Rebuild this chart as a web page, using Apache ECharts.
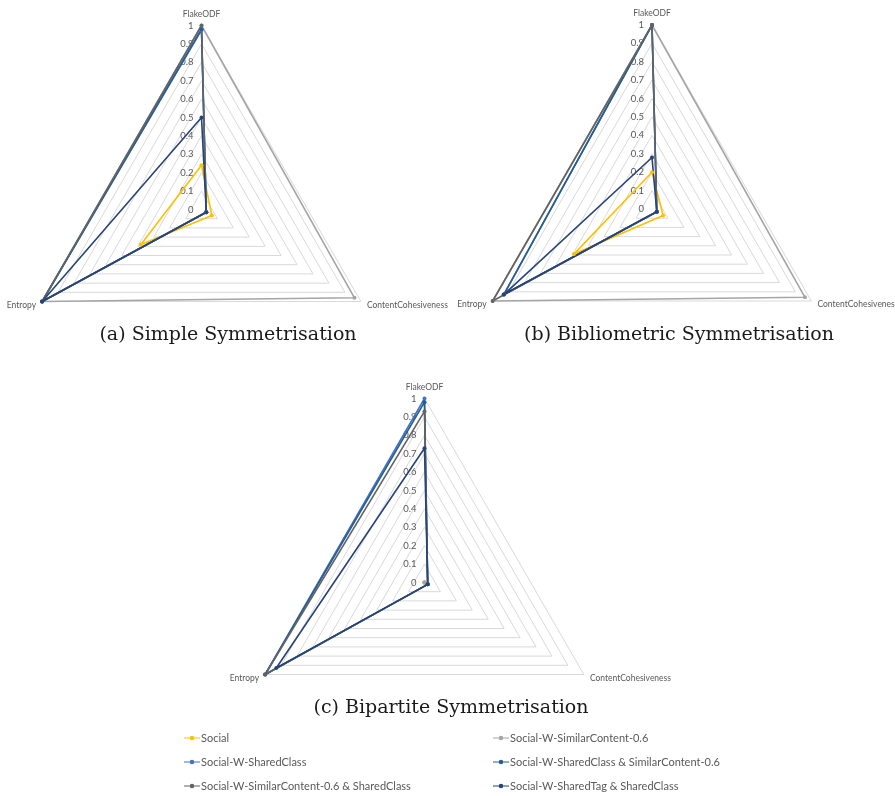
<!DOCTYPE html>
<html>
<head>
<meta charset="utf-8">
<title>Symmetrisation radar charts</title>
<script src="https://cdn.jsdelivr.net/npm/echarts@6/dist/echarts.min.js"></script>
<style>
  html, body { margin: 0; padding: 0; background: #ffffff; }
  #chart { width: 895px; height: 796px; }
</style>
</head>
<body>
<div id="chart"></div>
<script>
// Radar axes, in drawing order (top, bottom-left, bottom-right)
const categories = ['FlakeODF', 'Entropy', 'ContentCohesiveness'];
const tickValues = [0, 0.1, 0.2, 0.3, 0.4, 0.5, 0.6, 0.7, 0.8, 0.9, 1];

const methods = [
  'Social',
  'Social-W-SimilarContent-0.6',
  'Social-W-SharedClass',
  'Social-W-SharedClass & SimilarContent-0.6',
  'Social-W-SimilarContent-0.6 & SharedClass',
  'Social-W-SharedTag & SharedClass'
];
const methodColors = ['#FFC000', '#A5A5A5', '#4472C4', '#255E91', '#636363', '#264478'];

// (a) Simple symmetrisation: [FlakeODF, Entropy, ContentCohesiveness]
const simpleSocial          = [0.24, 0.38, 0.065];
const simpleSimContent      = [1.00, 1.00, 0.96];
const simpleSharedClass     = [0.975, 1.00, 0.03];
const simpleClassContent    = [0.98, 1.00, 0.03];
const simpleContentClass    = [1.00, 1.00, 0.03];
const simpleTagClass        = [0.50, 1.00, 0.03];

// (b) Bibliometric symmetrisation
const biblioSocial          = [0.20, 0.49, 0.07];
const biblioSimContent      = [1.00, 1.00, 0.96];
const biblioSharedClass     = [1.00, 0.93, 0.03];
const biblioClassContent    = [1.00, 0.93, 0.03];
const biblioContentClass    = [1.00, 1.00, 0.03];
const biblioTagClass        = [0.28, 0.93, 0.03];

// (c) Bipartite symmetrisation
const bipartSocial          = [0.00, 0.00, 0.00];
const bipartSimContent      = [0.00, 0.00, 0.00];
const bipartSharedClass     = [1.00, 1.00, 0.02];
const bipartClassContent    = [0.98, 1.00, 0.02];
const bipartContentClass    = [0.93, 1.00, 0.02];
const bipartTagClass        = [0.73, 0.93, 0.02];

const panels = [
  { title: '(a) Simple Symmetrisation', center: [201.5, 209.5], titlePos: [228, 335],
    values: [simpleSocial, simpleSimContent, simpleSharedClass, simpleClassContent, simpleContentClass, simpleTagClass] },
  { title: '(b) Bibliometric Symmetrisation', center: [652, 209], titlePos: [679, 335],
    values: [biblioSocial, biblioSimContent, biblioSharedClass, biblioClassContent, biblioContentClass, biblioTagClass] },
  { title: '(c) Bipartite Symmetrisation', center: [424.5, 582.5], titlePos: [451, 708],
    values: [bipartSocial, bipartSimContent, bipartSharedClass, bipartClassContent, bipartContentClass, bipartTagClass] }
];

const R = 184;
const labelFont = 'Lato, "Liberation Sans", sans-serif';
const textGrey = '#595959';

const radars = [], grids = [], xAxes = [], yAxes = [], series = [], graphics = [];

panels.forEach((p, pi) => {
  radars.push({
    center: p.center,
    radius: R,
    startAngle: 90,
    splitNumber: 10,
    shape: 'polygon',
    indicator: categories.map(name => ({ name: name, min: 0, max: 1 })),
    nameGap: 7,
    axisName: { color: textGrey, fontSize: 8.5, fontFamily: labelFont },
    axisLine: { show: false },
    axisTick: { show: false },
    axisLabel: { show: false },
    splitLine: { lineStyle: { color: '#D9D9D9', width: 1 } },
    splitArea: { show: false }
  });

  // value scale along the top axis, used only for its tick labels
  grids.push({ left: p.center[0], top: p.center[1] - R, width: 1, height: R });
  xAxes.push({ type: 'value', gridIndex: pi, show: false, min: 0, max: 1 });
  yAxes.push({
    type: 'value', gridIndex: pi,
    min: tickValues[0], max: tickValues[tickValues.length - 1], interval: 0.1,
    axisLine: { show: false }, axisTick: { show: false }, splitLine: { show: false },
    axisLabel: { color: textGrey, fontSize: 9.5, fontFamily: labelFont, margin: 8 }
  });

  methods.forEach((m, mi) => {
    series.push({
      type: 'radar',
      name: m,
      radarIndex: pi,
      symbol: 'circle',
      symbolSize: 4,
      lineStyle: { width: 1.6, color: methodColors[mi] },
      itemStyle: { color: methodColors[mi] },
      emphasis: { disabled: true },
      data: [{ name: m, value: p.values[mi] }]
    });
  });

  graphics.push({
    type: 'text',
    x: p.titlePos[0], y: p.titlePos[1],
    style: {
      text: p.title,
      fill: '#1a1a1a',
      font: '19px "DejaVu Serif", serif',
      textAlign: 'center',
      textVerticalAlign: 'middle'
    }
  });
});

// legend: two columns, three rows, one component per entry
const legendIcon = 'path://M0,2.5H16V3.5H0Z M10.3,3A2.3,2.3,0,1,1,5.7,3A2.3,2.3,0,1,1,10.3,3Z';
const legendCols = [184, 493];
const legendRows = [731, 755, 779];
const legends = methods.map((m, mi) => ({
  orient: 'horizontal',
  left: legendCols[mi % 2],
  top: legendRows[Math.floor(mi / 2)],
  padding: 0,
  icon: legendIcon,
  itemWidth: 16,
  itemHeight: 6,
  selectedMode: false,
  data: [m],
  textStyle: { color: textGrey, fontSize: 11, fontFamily: labelFont, lineHeight: 14, padding: [0, 0, 0, -4] }
}));

const chart = echarts.init(document.getElementById('chart'), null, { renderer: 'canvas' });
chart.setOption({
  backgroundColor: '#ffffff',
  animation: false,
  radar: radars,
  grid: grids,
  xAxis: xAxes,
  yAxis: yAxes,
  series: series,
  legend: legends,
  graphic: graphics
});
</script>
</body>
</html>
